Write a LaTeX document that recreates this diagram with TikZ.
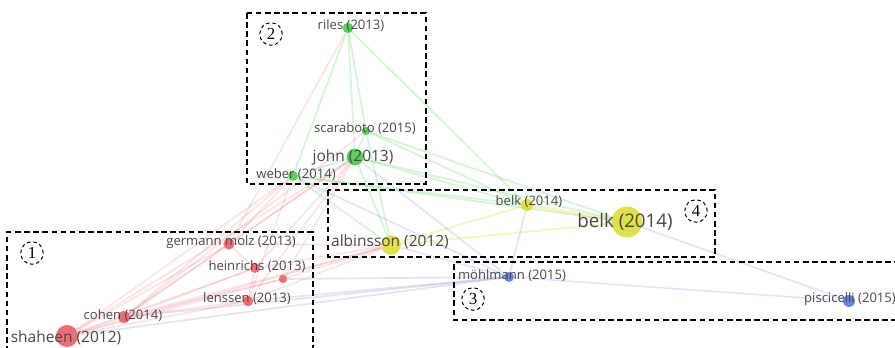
\documentclass[tikz,border=0pt]{standalone}
\usepackage{fontspec}
\setmainfont{Open Sans}
\newfontfamily\numfont{Liberation Serif}
\usepackage{tikz}
\usetikzlibrary{backgrounds}
\definecolor{vred}{RGB}{232,86,92}
\definecolor{vgreen}{RGB}{62,200,62}
\definecolor{vyellow}{RGB}{218,218,45}
\definecolor{vblue}{RGB}{72,110,228}
\definecolor{vpurple}{RGB}{150,140,200}
\definecolor{lab}{RGB}{72,72,72}
\tikzstyle{rv}=[fill=vred, draw=none, shape=circle, inner sep=0pt, fill opacity=0.85]
\tikzstyle{gv}=[fill=vgreen, draw=none, shape=circle, inner sep=0pt, fill opacity=0.85]
\tikzstyle{yv}=[fill=vyellow, draw=none, shape=circle, inner sep=0pt, fill opacity=0.85]
\tikzstyle{bv}=[fill=vblue, draw=none, shape=circle, inner sep=0pt, fill opacity=0.85]
\tikzstyle{lbl}=[text=lab, inner sep=0pt, font=\fontsize{9.3}{11}\selectfont]
\tikzstyle{lblm}=[text=lab, inner sep=0pt, font=\fontsize{11}{13}\selectfont]
\tikzstyle{lblb}=[text=lab, inner sep=0pt, font=\fontsize{13.3}{16}\selectfont]
\tikzstyle{re}=[draw=vred, draw opacity=0.16, line width=1.2pt]
\tikzstyle{ge}=[draw=vgreen, draw opacity=0.2, line width=1.3pt]
\tikzstyle{ye}=[draw=vyellow, draw opacity=0.28, line width=1.5pt]
\tikzstyle{be}=[draw=vblue, draw opacity=0.18, line width=1.1pt]
\tikzstyle{pe}=[draw=vpurple, draw opacity=0.25, line width=1.2pt]
\tikzstyle{box}=[draw=black, dash pattern=on 4pt off 2.5pt, line width=0.8pt]
\tikzstyle{num}=[draw=black, dash pattern=on 2.5pt off 2pt, line width=0.7pt, shape=circle, minimum size=16pt, inner sep=0pt, font=\numfont\fontsize{12}{12}\selectfont]

\begin{document}
\begin{tikzpicture}[x=0.025cm, y=-0.025cm]
		\useasboundingbox (0,0) rectangle (895,348);
		\clip (0,0) rectangle (895,348);

		\node[style=rv, minimum size=15.6pt] (1) at (67,336) {};
		\node[style=rv, minimum size=8.5pt] (2) at (124,317) {};
		\node[style=rv, minimum size=7.5pt] (3) at (248,301) {};
		\node[style=rv, minimum size=7pt] (4) at (255,268) {};
		\node[style=rv, minimum size=8pt] (5) at (229,244) {};
		\node[style=rv, minimum size=6pt] (6) at (283,279) {};
		\node[style=gv, minimum size=7.5pt] (7) at (348,28) {};
		\node[style=gv, minimum size=6pt] (8) at (366,131) {};
		\node[style=gv, minimum size=12pt] (9) at (355,157) {};
		\node[style=gv, minimum size=7pt] (10) at (293,176) {};
		\node[style=yv, minimum size=14pt] (11) at (391,245) {};
		\node[style=yv, minimum size=8.5pt] (12) at (527,205) {};
		\node[style=yv, minimum size=22pt] (13) at (627,222) {};
		\node[style=bv, minimum size=7pt] (14) at (509,277) {};
		\node[style=bv, minimum size=8.5pt] (15) at (849,301) {};

		\begin{scope}[on background layer]
		\draw[style=re] (1) to (2);
		\draw[style=re] (1) to (3);
		\draw[style=re] (1) to (4);
		\draw[style=re] (1) to (5);
		\draw[style=re] (1) to (6);
		\draw[style=re] (1) to (10);
		\draw[style=re] (1) to (9);
		\draw[style=re] (1) to (11);
		\draw[style=re] (2) to (3);
		\draw[style=re] (2) to (4);
		\draw[style=re] (2) to (5);
		\draw[style=re] (2) to (6);
		\draw[style=re] (2) to (10);
		\draw[style=re] (2) to (9);
		\draw[style=re] (2) to (8);
		\draw[style=re] (2) to (11);
		\draw[style=re] (5) to (9);
		\draw[style=re] (5) to (10);
		\draw[style=re] (5) to (7);
		\draw[style=re] (5) to (4);
		\draw[style=re] (4) to (3);
		\draw[style=re] (4) to (9);
		\draw[style=re] (3) to (9);
		\draw[style=re] (3) to (10);
		\draw[style=re] (3) to (11);
		\draw[style=re] (4) to (11);
		\draw[style=re] (6) to (11);
		\draw[style=re] (6) to (9);
		\draw[style=re] (5) to (11);
		\draw[style=pe] (1) to (14);
		\draw[style=pe] (2) to (14);
		\draw[style=pe] (3) to (14);
		\draw[style=pe] (6) to (14);
		\draw[style=ge] (7) to (8);
		\draw[style=ge] (7) to (9);
		\draw[style=ge] (7) to (10);
		\draw[style=ge] (7) to (12);
		\draw[style=ge] (8) to (9);
		\draw[style=ge] (8) to (12);
		\draw[style=ge] (8) to (13);
		\draw[style=ge] (8) to (11);
		\draw[style=ge] (9) to (10);
		\draw[style=ge] (9) to (11);
		\draw[style=ge] (9) to (12);
		\draw[style=ge] (9) to (13);
		\draw[style=ge] (10) to (11);
		\draw[style=ge] (10) to (12);
		\draw[style=ge] (10) to (13);
		\draw[style=ye] (11) to (12);
		\draw[style=ye] (11) to (13);
		\draw[style=ye, line width=2.4pt] (12) to (13);
		\draw[style=be] (14) to (15);
		\draw[style=be] (14) to (12);
		\draw[style=be] (14) to (9);
		\draw[style=be] (14) to (10);
		\draw[style=be] (14) to (11);
		\draw[style=pe] (13) to (15);
		\end{scope}

		\node[style=lblm] (16) at (66,338) {shaheen (2012)};
		\node[style=lbl] (17) at (123,316) {cohen (2014)};
		\node[style=lbl] (18) at (247,299) {lenssen (2013)};
		\node[style=lbl] (19) at (257,267) {heinrichs (2013)};
		\node[style=lbl] (20) at (231,242) {germann molz (2013)};
		\node[style=lbl] (21) at (351,26) {riles (2013)};
		\node[style=lbl] (22) at (365,129) {scaraboto (2015)};
		\node[style=lblm] (23) at (353,157) {john (2013)};
		\node[style=lbl] (24) at (296,175) {weber (2014)};
		\node[style=lblm] (25) at (390,242) {albinsson (2012)};
		\node[style=lbl] (26) at (529,202) {belk (2014)};
		\node[style=lblb] (27) at (625,222) {belk (2014)};
		\node[style=lbl] (28) at (512,276) {möhlmann (2015)};
		\node[style=lbl] (29) at (850,299) {piscicelli (2015)};

		\draw[style=box] (7,352) -- (7,232) -- (313,232) -- (313,352);
		\draw[style=box] (247,13) rectangle (426,184);
		\draw[style=box] (900,262) -- (454,262) -- (454,320) -- (900,320);
		\draw[style=box] (328,190) rectangle (715,257);

		\node[style=num] (30) at (32,253) {1};
		\node[style=num] (31) at (271,34) {2};
		\node[style=num] (32) at (473,299) {3};
		\node[style=num] (33) at (696,211) {4};
	\end{tikzpicture}
\end{document}
